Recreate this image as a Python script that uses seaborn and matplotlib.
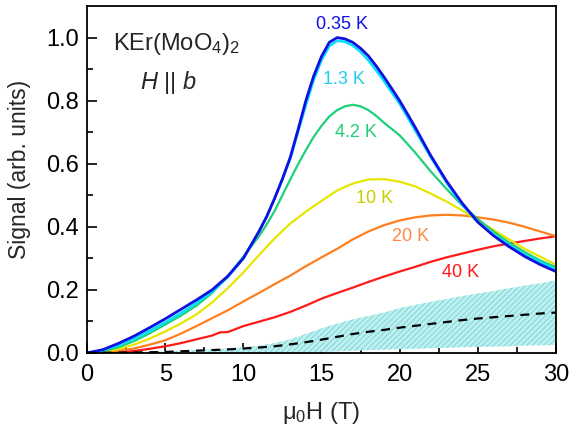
import matplotlib
matplotlib.use('Agg')
import matplotlib.pyplot as plt
import numpy as np
import pandas as pd
import seaborn as sns

# field values (T)
field = list(range(0, 31))
field_fine = [0, 1, 2, 3, 4, 5, 6, 7, 8, 9, 10, 11,
              11.5, 12, 12.5, 13, 13.5, 14, 14.5, 15, 15.5, 16, 16.5, 17, 17.5,
              18, 18.5, 19, 19.5, 20, 20.5, 21,
              22, 23, 24, 25, 26, 27, 28, 29, 30]
field_red = [0, 1, 2, 3, 4, 5, 6, 7, 8, 8.5, 9, 10, 11, 12, 13, 14, 15, 16, 17, 18,
             19, 20, 21, 22, 23, 24, 25, 26, 27, 28, 29, 30]

# signal
sig_035 = [0, 0.01, 0.03, 0.053, 0.08, 0.108, 0.138, 0.168, 0.2, 0.243, 0.30, 0.385,
           0.433, 0.49, 0.552, 0.62, 0.708, 0.80, 0.878, 0.94, 0.985, 1.0, 0.996,
           0.985, 0.966, 0.942, 0.91, 0.875, 0.838, 0.80, 0.758, 0.715,
           0.625, 0.545, 0.475, 0.415, 0.372, 0.337, 0.306, 0.28, 0.258]
sig_13 = [0, 0.008, 0.024, 0.045, 0.07, 0.097, 0.126, 0.158, 0.195, 0.24, 0.30, 0.385,
          0.433, 0.49, 0.55, 0.615, 0.70, 0.785, 0.865, 0.928, 0.973, 0.99, 0.987,
          0.975, 0.955, 0.928, 0.896, 0.862, 0.826, 0.79, 0.748, 0.705,
          0.62, 0.54, 0.47, 0.415, 0.375, 0.342, 0.312, 0.287, 0.265]
sig_42 = [0, 0.005, 0.018, 0.037, 0.062, 0.09, 0.118, 0.15, 0.19, 0.243, 0.305, 0.37,
          0.408, 0.45, 0.5, 0.55, 0.598, 0.643, 0.685, 0.72, 0.75, 0.77, 0.782,
          0.787, 0.782, 0.77, 0.752, 0.73, 0.71, 0.69, 0.663, 0.635,
          0.575, 0.52, 0.468, 0.425, 0.385, 0.35, 0.32, 0.293, 0.272]
sig_10 = [0, 0.003, 0.012, 0.026, 0.045, 0.068, 0.093, 0.122, 0.16, 0.205, 0.255, 0.31,
          0.363, 0.41, 0.448, 0.482, 0.515, 0.537, 0.55, 0.551, 0.543, 0.528, 0.505,
          0.48, 0.452, 0.42, 0.39, 0.36, 0.33, 0.305, 0.28]
sig_20 = [0, 0.002, 0.006, 0.014, 0.026, 0.04, 0.061, 0.085, 0.11, 0.135, 0.163, 0.19,
          0.218, 0.245, 0.275, 0.303, 0.33, 0.36, 0.385, 0.405, 0.42, 0.43, 0.436,
          0.438, 0.436, 0.43, 0.423, 0.413, 0.4, 0.385, 0.37]
sig_40 = [0, 0.0, 0.002, 0.006, 0.013, 0.021, 0.031, 0.043, 0.055, 0.065, 0.066, 0.085,
          0.099, 0.113, 0.13, 0.15, 0.172, 0.19, 0.207, 0.225, 0.242, 0.258, 0.273,
          0.289, 0.303, 0.315, 0.327, 0.338, 0.347, 0.355, 0.363, 0.37]
background = [0, 0.0005, 0.001, 0.0015, 0.002, 0.003, 0.005, 0.007, 0.009, 0.011, 0.014,
              0.017, 0.021, 0.027, 0.034, 0.042, 0.051, 0.06, 0.067, 0.073, 0.08,
              0.086, 0.092, 0.098, 0.104, 0.109, 0.113, 0.117, 0.121, 0.125, 0.128]
band_hi = [0, 0.001, 0.002, 0.003, 0.004, 0.005, 0.007, 0.009, 0.011, 0.014, 0.018,
           0.023, 0.031, 0.043, 0.06, 0.078, 0.093, 0.106, 0.117, 0.128, 0.142,
           0.152, 0.162, 0.171, 0.18, 0.188, 0.196, 0.205, 0.213, 0.221, 0.23]
band_lo = [0, 0, 0, 0, 0, 0, 0, 0, 0, 0, 0, 0, 0, 0, 0.001, 0.003, 0.005, 0.007, 0.009,
           0.01, 0.012, 0.013, 0.015, 0.016, 0.018, 0.019, 0.02, 0.021, 0.023, 0.024,
           0.025]

temps = ['40 K', '20 K', '10 K', '4.2 K', '1.3 K', '0.35 K']
line_colors = ['#ff1a1a', '#ff7f1e', '#e6e600', '#1ed07a', '#00e0ff', '#1010e0']
label_colors = ['#ff1a1a', '#ff8844', '#cccc00', '#1ed07a', '#22ccee', '#1010e0']
label_pos = [(23.9, 0.254), (20.7, 0.368), (18.4, 0.489), (17.2, 0.698),
             (16.45, 0.867), (16.3, 1.04)]

sns.set_style('ticks')
plt.rcParams['font.family'] = ['Liberation Sans', 'DejaVu Sans']
plt.rcParams['mathtext.fontset'] = 'custom'
plt.rcParams['mathtext.rm'] = 'Liberation Sans'
plt.rcParams['mathtext.it'] = 'Liberation Sans:italic'
plt.rcParams['hatch.linewidth'] = 0.7
plt.rcParams['hatch.color'] = '#7fd4d8'

fig = plt.figure(figsize=(5.69, 4.33), dpi=100)
ax = fig.add_axes([0.153, 0.185, 0.824, 0.801])

ax.fill_between(field, band_lo, band_hi, facecolor='#bff0f0', edgecolor='#7fd4d8',
                hatch='//////', linewidth=0)

curves = [(field_red, sig_40), (field, sig_20), (field, sig_10), (field_fine, sig_42),
          (field_fine, sig_13), (field_fine, sig_035)]
for (fx, fy), c, lw in zip(curves, line_colors, [1.6, 1.6, 1.6, 1.6, 1.8, 2.0]):
    df = pd.DataFrame({'B': fx, 'S': fy})
    sns.lineplot(data=df, x='B', y='S', color=c, lw=lw, ax=ax, sort=False)

df_bg = pd.DataFrame({'B': field, 'S': background})
sns.lineplot(data=df_bg, x='B', y='S', color='black', lw=1.6, ls='--', ax=ax,
             sort=False, dashes=False)
ax.lines[-1].set_dashes([4, 3])

for t, c, (px, py) in zip(temps, label_colors, label_pos):
    ax.text(px, py, t, color=c, fontsize=13, ha='center', va='center')

ax.text(1.65, 0.98, 'KEr(MoO$_4$)$_2$', fontsize=17, ha='left', va='center')
ax.text(5.2, 0.857, '$H$ || $b$', fontsize=17, ha='center', va='center')

ax.set_xlim(0, 30)
ax.set_ylim(0, 1.1)
ax.set_xticks(np.arange(0, 31, 5))
ax.set_xticks(np.arange(0, 31, 2.5), minor=True)
ax.set_yticks(np.arange(0, 1.01, 0.2))
ax.set_yticks(np.arange(0, 1.05, 0.1), minor=True)
ax.set_yticklabels([f'{v:.1f}' for v in np.arange(0, 1.01, 0.2)])
ax.tick_params(which='both', direction='in', top=False, right=False,
               labelsize=17, width=1.2, colors='black')
ax.tick_params(which='major', length=7)
ax.tick_params(which='minor', length=4)
ax.tick_params(axis='x', pad=8)
ax.tick_params(axis='y', pad=6)
for s in ax.spines.values():
    s.set_linewidth(1.3)
    s.set_color('black')

ax.set_xlabel('μ$_0$H (T)', fontsize=17, labelpad=10)
ax.set_ylabel('Signal (arb. units)', fontsize=16.5, labelpad=8)
ax.yaxis.set_label_coords(-0.12, 0.53)

fig.savefig('out.png', dpi=100)
